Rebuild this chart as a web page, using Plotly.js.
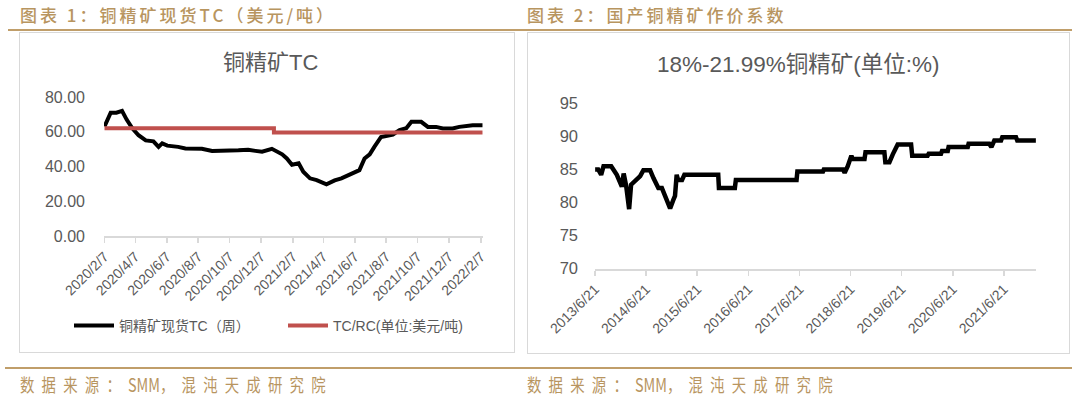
<!DOCTYPE html>
<html><head><meta charset="utf-8">
<script src="https://cdn.plot.ly/plotly-3.0.1.min.js"></script>
<style>
html,body{margin:0;padding:0;background:#fff;width:1080px;height:398px;overflow:hidden;}
#wrap{position:relative;width:1080px;height:398px;}
#chart{position:absolute;left:0;top:0;width:1080px;height:398px;}
.hdr{position:absolute;font-family:"Noto Sans CJK SC",sans-serif;color:#B8955F;font-size:17px;font-weight:500;letter-spacing:3px;white-space:nowrap;line-height:20px;}
.ftr{position:absolute;font-family:"Noto Sans CJK SC",sans-serif;color:#B8955F;font-size:18px;letter-spacing:9px;white-space:nowrap;line-height:20px;transform:scaleX(0.8);transform-origin:0 0;}
.ftr span{letter-spacing:0;}
.rule{position:absolute;height:2px;background:#C09E6A;}
.box{position:absolute;border:1px solid #D9D9D9;box-sizing:border-box;pointer-events:none;}
</style></head>
<body><div id="wrap">
<div id="chart"></div>
<div class="box" style="left:19px;top:32px;width:496px;height:321px;"></div>
<div class="box" style="left:527px;top:32px;width:543px;height:322px;"></div>
<div class="hdr" style="left:20px;top:5px;">图表 1：铜精矿现货TC（美元/吨）</div>
<div class="hdr" style="left:527px;top:5px;">图表 2：国产铜精矿作价系数</div>
<div class="rule" style="left:8px;top:29px;width:1064px;"></div>
<div class="rule" style="left:5px;top:367px;width:1067px;"></div>
<div class="ftr" style="left:20px;top:374px;">数据来源：<span>SMM</span>，混沌天成研究院</div>
<div class="ftr" style="left:527px;top:374px;">数据来源：<span>SMM</span>，混沌天成研究院</div>
</div>
<script>
// ---- Chart 1: 铜精矿现货TC ----
const tcDates = ["2020-02-07","2020-02-19","2020-03-01","2020-03-12","2020-03-21","2020-04-01","2020-04-13","2020-04-27","2020-05-12","2020-05-22","2020-05-29","2020-06-08","2020-06-29","2020-07-13","2020-08-14","2020-09-03","2020-10-24","2020-11-12","2020-11-26","2020-12-09","2020-12-28","2021-01-17","2021-01-26","2021-02-05","2021-02-18","2021-02-27","2021-03-12","2021-03-25","2021-04-13","2021-04-29","2021-05-12","2021-05-28","2021-06-16","2021-06-26","2021-07-06","2021-07-15","2021-07-28","2021-08-20","2021-09-02","2021-09-15","2021-09-25","2021-10-14","2021-10-27","2021-11-12","2021-11-25","2021-12-14","2021-12-27","2022-01-22","2022-02-10"];
const tcValues = [63,71,71,72,67,62,58,55,54.5,51.3,53.3,52,51.3,50.4,50.2,48.9,49.3,49.6,49,48.5,50.2,47,44.6,41,41.8,37,33.2,32.2,29.7,32,33.2,35.5,37.9,44.6,47,51.3,57,58.4,61,62,65.7,65.7,62.8,62.8,61.9,61.9,62.8,63.8,63.8];
const benchDates = ["2020-02-07","2021-01-01","2022-02-10"];
const benchValues = [62,59.5,59.5];
const tcTickVals = ["2020-02-07","2020-04-07","2020-06-07","2020-08-07","2020-10-07","2020-12-07","2021-02-07","2021-04-07","2021-06-07","2021-08-07","2021-10-07","2021-12-07","2022-02-07"];
const tcTickText = ["2020/2/7","2020/4/7","2020/6/7","2020/8/7","2020/10/7","2020/12/7","2021/2/7","2021/4/7","2021/6/7","2021/8/7","2021/10/7","2021/12/7","2022/2/7"];
const tcSeriesNames = ["铜精矿现货TC（周）","TC/RC(单位:美元/吨)"];

// ---- Chart 2: 18%-21.99%铜精矿 作价系数 ----
const coefDates = ["2013-06-21","2013-07-13","2013-08-03","2013-08-20","2013-10-14","2013-11-23","2013-12-29","2014-01-11","2014-01-29","2014-02-19","2014-03-05","2014-04-15","2014-05-09","2014-06-01","2014-07-19","2014-08-12","2014-09-16","2014-10-11","2014-11-15","2014-12-09","2015-01-01","2015-01-13","2015-01-25","2015-02-04","2015-03-04","2015-03-21","2015-11-18","2015-11-23","2016-03-16","2016-03-23","2017-05-31","2017-06-06","2017-12-06","2017-12-12","2018-04-28","2018-05-10","2018-06-01","2018-06-27","2018-07-05","2018-09-29","2018-10-06","2019-02-18","2019-02-25","2019-03-26","2019-04-19","2019-05-24","2019-08-28","2019-09-05","2019-12-24","2020-01-01","2020-03-29","2020-04-05","2020-05-16","2020-05-22","2020-10-06","2020-10-12","2021-03-09","2021-03-24","2021-04-14","2021-06-01","2021-06-10","2021-09-16","2021-09-25","2022-02-05"];
const coefValues = [85,85,84.2,85.5,85.5,84.2,82.4,84.4,82.5,79,82.7,83.4,84,84.9,84.9,83.7,82.2,82.2,80.1,79.1,80.4,81,84.2,83.4,83.4,84.2,84.2,82.2,82.2,83.4,83.4,84.7,84.7,85,85,84.5,85.5,87.1,86.6,86.6,87.6,87.6,86.1,86.1,87.3,88.8,88.8,87.1,87.1,87.4,87.4,87.8,87.8,88.4,88.4,88.9,88.9,88.4,89.4,89.4,89.9,89.9,89.4,89.4];
const coefTickVals = ["2013-06-21","2014-06-21","2015-06-21","2016-06-21","2017-06-21","2018-06-21","2019-06-21","2020-06-21","2021-06-21"];
const coefTickText = ["2013/6/21","2014/6/21","2015/6/21","2016/6/21","2017/6/21","2018/6/21","2019/6/21","2020/6/21","2021/6/21"];

const W = 1080, H = 398;
const px = v => v / W;
const py = v => 1 - v / H;
const FONT = 'Arial, "Liberation Sans", "Noto Sans CJK SC", sans-serif';
const GRAY = '#595959';
const AXIS = '#D9D9D9';

const traces = [
  {x: tcDates, y: tcValues, type: 'scatter', mode: 'lines', name: tcSeriesNames[0],
   line: {color: '#000000', width: 4}, xaxis: 'x', yaxis: 'y'},
  {x: benchDates, y: benchValues, type: 'scatter', mode: 'lines', name: tcSeriesNames[1],
   line: {color: '#C0504D', width: 4, shape: 'hv'}, xaxis: 'x', yaxis: 'y'},
  {x: coefDates, y: coefValues, type: 'scatter', mode: 'lines', name: '作价系数', showlegend: false,
   line: {color: '#000000', width: 4.5}, xaxis: 'x2', yaxis: 'y2'}
];

const common = {showgrid: false, zeroline: false, fixedrange: true};
const layout = {
  width: W, height: H,
  margin: {l: 0, r: 0, t: 0, b: 0},
  paper_bgcolor: 'rgba(0,0,0,0)', plot_bgcolor: 'rgba(0,0,0,0)',
  font: {family: FONT, color: GRAY},
  showlegend: true,
  legend: {orientation: 'h', x: px(69), y: py(326), xanchor: 'left', yanchor: 'middle',
           font: {size: 14, color: GRAY, family: FONT}, itemwidth: 40, entrywidth: 159, entrywidthmode: 'pixels',
           bgcolor: 'rgba(0,0,0,0)'},
  xaxis: Object.assign({}, common, {
    domain: [px(104), px(483)], type: 'date', range: ['2020-02-06', '2022-02-11'],
    tickmode: 'array', tickvals: tcTickVals, ticktext: tcTickText, tickangle: -45,
    ticks: 'outside', ticklen: 5, tickcolor: AXIS, tickwidth: 1.5,
    showline: true, linecolor: AXIS, linewidth: 2,
    tickfont: {size: 14, color: GRAY, family: FONT}, anchor: 'y'}),
  yaxis: Object.assign({}, common, {
    domain: [py(236), py(97)], range: [0, 80], tickmode: 'array', tickvals: [0,20,40,60,80],
    tickformat: '.2f', showline: false, ticks: '', ticklabelstandoff: 18,
    tickfont: {size: 16, color: GRAY, family: FONT}, anchor: 'x'}),
  xaxis2: Object.assign({}, common, {
    domain: [px(595), px(1036)], type: 'date', range: ['2013-06-20', '2022-02-06'],
    tickmode: 'array', tickvals: coefTickVals, ticktext: coefTickText, tickangle: -45,
    ticks: 'outside', ticklen: 5, tickcolor: AXIS, tickwidth: 1.5,
    showline: true, linecolor: AXIS, linewidth: 2,
    tickfont: {size: 14, color: GRAY, family: FONT}, anchor: 'y2'}),
  yaxis2: Object.assign({}, common, {
    domain: [py(268.5), py(103.5)], range: [70, 95], tickmode: 'array', tickvals: [70,75,80,85,90,95],
    showline: false, ticks: '', ticklabelstandoff: 16,
    tickfont: {size: 16.5, color: GRAY, family: FONT}, anchor: 'x2'}),
  annotations: [
    {text: '铜精矿TC', xref: 'paper', yref: 'paper', x: px(270), y: py(63), xanchor: 'center', yanchor: 'middle',
     showarrow: false, font: {size: 22, color: GRAY, family: FONT}},
    {text: '18%-21.99%铜精矿(单位:%)', xref: 'paper', yref: 'paper', x: px(798), y: py(64), xanchor: 'center', yanchor: 'middle',
     showarrow: false, font: {size: 22.5, color: GRAY, family: FONT}}
  ]
};

Plotly.newPlot('chart', traces, layout, {staticPlot: true, displayModeBar: false});
</script>
</body></html>
